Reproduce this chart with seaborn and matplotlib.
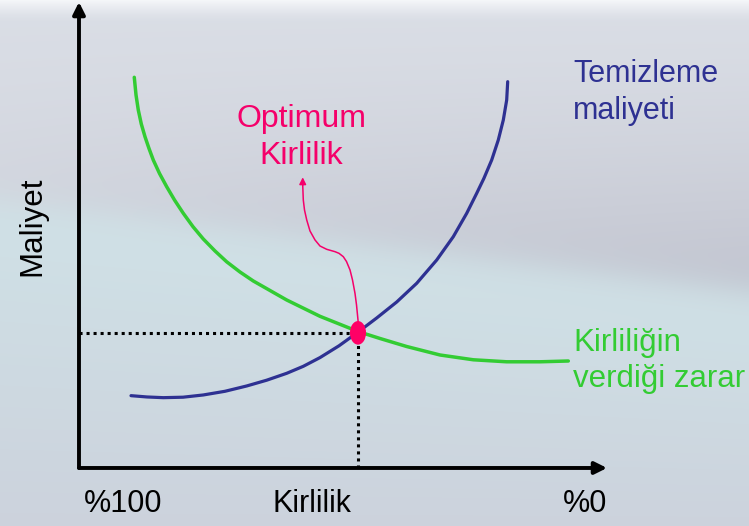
import numpy as np
import pandas as pd
import matplotlib
matplotlib.use("Agg")
import matplotlib.pyplot as plt
from matplotlib.markers import MarkerStyle
from matplotlib.transforms import Affine2D
import seaborn as sns

# curve points (x = Kirlilik, y = Maliyet, axis scale 0..100)
green_x = [10.47, 10.80, 11.23, 11.80, 12.50, 13.26, 14.07, 15.25, 16.61, 18.09,
           19.75, 21.59, 23.54, 25.76, 27.97, 30.49, 33.01, 39.34, 45.64, 52.84,
           57.01, 62.06, 68.37, 74.68, 81.00, 87.31, 92.67]
green_y = [83.84, 80.04, 76.82, 73.82, 71.09, 68.56, 66.09, 63.20, 60.36, 57.51,
           54.66, 51.78, 49.14, 46.57, 44.25, 42.06, 40.13, 36.05, 32.55, 29.29,
           27.79, 26.07, 24.25, 23.22, 22.79, 22.79, 22.96]

blue_x = [9.85, 12.88, 15.97, 19.70, 23.54, 27.65, 31.76, 35.55, 39.34, 42.48,
          45.64, 49.24, 52.84, 56.38, 60.17, 63.96, 67.75, 70.89, 73.43, 75.32,
          76.67, 78.16, 79.41, 80.36, 81.00, 81.19]
blue_y = [15.52, 15.24, 15.09, 15.19, 15.67, 16.46, 17.60, 18.84, 20.32, 21.82,
          23.69, 26.22, 29.16, 32.19, 35.62, 39.64, 44.64, 49.64, 54.66, 58.95,
          62.12, 66.09, 70.39, 74.68, 78.97, 82.90]

# curved pointer from the optimum up to the label
pointer_x = [52.90, 52.56, 52.27, 51.80, 51.33, 50.66, 50.06, 49.24, 48.48, 46.91,
             45.64, 44.70, 43.75, 43.13, 42.71, 42.48, 42.37]
pointer_y = [31.05, 34.98, 37.49, 40.34, 42.49, 44.31, 45.34, 46.07, 46.42, 46.93,
             47.64, 48.93, 50.86, 53.22, 55.36, 57.51, 60.73]
pointer_tip = (42.37, 62.38)

opt_x, opt_y = 52.84, 29.0

blue_label = ["Temizleme", "maliyeti"]
green_label = ["Kirliliğin", "verdiği zarar"]
opt_label = ["Optimum", "Kirlilik"]
x_ticks = ["%100", "Kirlilik", "%0"]
y_title = "Maliyet"

BLUE = "#2e3192"
GREEN = "#33cc33"
PINK = "#f5006a"
FONT = ["Liberation Sans", "DejaVu Sans"]

sns.set_style("white")
plt.rcParams["font.family"] = FONT

fig = plt.figure(figsize=(7.49, 5.26), dpi=100)
ax = fig.add_axes([0, 0, 1, 1])
xlim = (-14.96, 126.89)
ylim = (-12.45, 100.43)

# background gradient (slide-like)
H, W = 526, 749
py, px = np.mgrid[0:H, 0:W].astype(float)
b = 200 + 0.12 * px
top = np.array([0.96, 0.965, 0.975])
upper = np.array([0.855, 0.87, 0.9])
lav = np.array([0.755, 0.765, 0.81])
cyan = np.array([0.815, 0.885, 0.905])
low = np.array([0.80, 0.825, 0.865])
d = np.clip((b - py) / b, 0, 1)[..., None]
k = ((1 - d) ** 1.4) * (0.35 + 0.65 * (px / W))[..., None]
above = upper + (lav - upper) * k
e = np.clip((py - b) / (H - b), 0, 1)[..., None]
below = cyan * (1 - e) + low * e
w = 1 / (1 + np.exp(-(py - b) / 10))
img = above * (1 - w[..., None]) + below * w[..., None]
tband = np.clip((22 - py) / 22, 0, 1)[..., None] ** 1.5
img = img * (1 - tband) + top * tband
ax.imshow(img, extent=(xlim[0], xlim[1], ylim[0], ylim[1]), aspect="auto",
          zorder=0, interpolation="bilinear")

# curves
green_df = pd.DataFrame({"x": green_x, "y": green_y})
blue_df = pd.DataFrame({"x": blue_x, "y": blue_y})
sns.lineplot(data=green_df, x="x", y="y", sort=False, estimator=None,
             color=GREEN, lw=2.5, ax=ax, zorder=3)
sns.lineplot(data=blue_df, x="x", y="y", sort=False, estimator=None,
             color=BLUE, lw=2.3, ax=ax, zorder=3)

# dotted guides
ax.plot([0, opt_x], [opt_y, opt_y], color="black", lw=2.2,
        dashes=(1, 1.3), zorder=2)
ax.plot([opt_x, opt_x], [0, opt_y], color="black", lw=2.2,
        dashes=(1, 1.3), zorder=2)

# axes with arrows
ax.annotate("", xy=(100, 0), xytext=(0, 0),
            arrowprops=dict(arrowstyle="-|>", lw=2.8, color="black",
                            mutation_scale=18, shrinkA=0, shrinkB=0), zorder=4)
ax.annotate("", xy=(0, 100), xytext=(0, 0),
            arrowprops=dict(arrowstyle="-|>", lw=2.8, color="black",
                            mutation_scale=18, shrinkA=0, shrinkB=0), zorder=4)

# pointer to label
ax.plot(pointer_x, pointer_y, color=PINK, lw=1.1, zorder=4,
        solid_joinstyle="round")
ax.annotate("", xy=pointer_tip, xytext=(pointer_x[-1], pointer_y[-1]),
            arrowprops=dict(arrowstyle="-|>", lw=1.1, color=PINK,
                            mutation_scale=10, shrinkA=0, shrinkB=0), zorder=4)

# optimum marker (upright ellipse)
ell = MarkerStyle("o", transform=Affine2D().scale(0.68, 1.0))
ax.scatter([opt_x], [opt_y], marker=ell, s=17 ** 2, color="#ff0066",
           edgecolors="none", zorder=5)

# labels
for txt, yy in zip(blue_label, [82.8, 74.9]):
    ax.text(93.6, yy, txt, color=BLUE, fontsize=22, ha="left", va="baseline")
for txt, yy in zip(green_label, [25.1, 17.4]):
    ax.text(93.6, yy, txt, color=GREEN, fontsize=22.5, ha="left", va="baseline")
for txt, yy in zip(opt_label, [73.1, 65.2]):
    ax.text(42.1, yy, txt, color=PINK, fontsize=23, ha="center", va="baseline")
for txt, xx in zip(x_ticks, [0.9, 36.7, 91.6]):
    ax.text(xx, -9.4, txt, color="black", fontsize=22, ha="left", va="baseline")
ax.text(-7.27, 51.8, y_title, color="black", fontsize=22.5, rotation=90,
        rotation_mode="anchor", ha="center", va="baseline")

ax.set_xlim(*xlim)
ax.set_ylim(*ylim)
ax.axis("off")

fig.savefig("out.png", dpi=100)
